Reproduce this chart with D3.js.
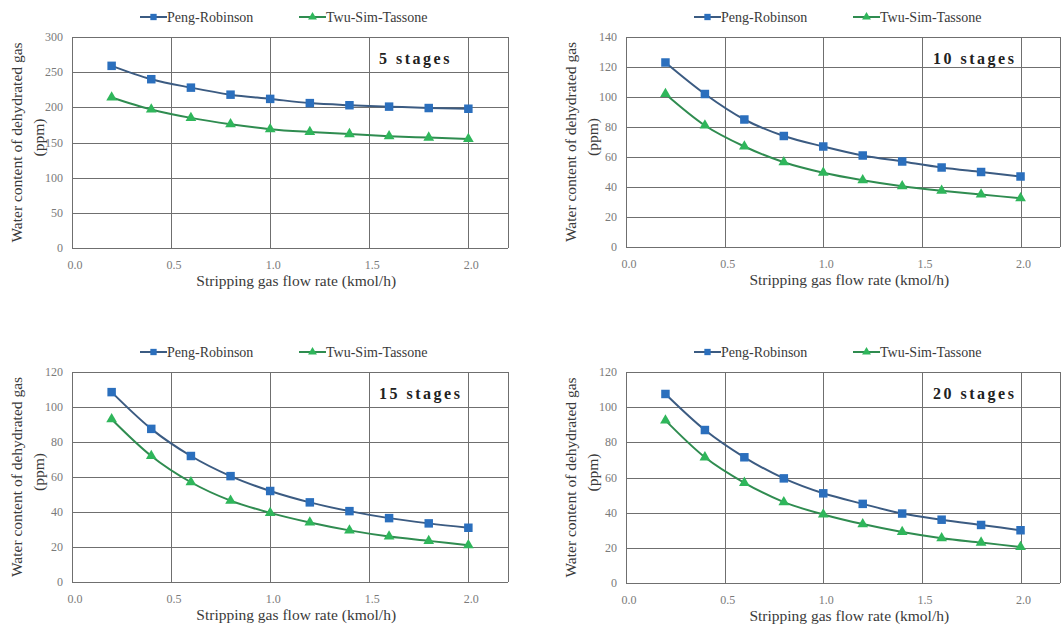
<!DOCTYPE html>
<html>
<head>
<meta charset="utf-8">
<script src="https://cdn.jsdelivr.net/npm/d3@7"></script>
<style>
  body { margin: 0; background: #fff; }
  svg text { font-family: "Liberation Serif", "DejaVu Serif", serif; }
  .grid line { stroke: #6f6f6f; stroke-width: 1; }
  .tick-label { fill: #7a7a7a; font-size: 12px; }
  .axis-title { fill: #3a3a3a; font-size: 15.5px; }
  .legend-text { fill: #3a3a3a; font-size: 14px; }
  .stage-label { fill: #222; font-size: 16px; font-weight: bold; letter-spacing: 2.5px; }
</style>
</head>
<body>
<div id="chart"></div>
<script>
const width = 1061;
const height = 625;

const flowRates = [0.2, 0.4, 0.6, 0.8, 1.0, 1.2, 1.4, 1.6, 1.8, 2.0];
const xTicks = [0.0, 0.5, 1.0, 1.5, 2.0];
const seriesNames = ["Peng-Robinson", "Twu-Sim-Tassone"];
const stageLabels = ["5 stages", "10 stages", "15 stages", "20 stages"];

const pr5 = [259, 240, 228, 218, 212, 206, 203, 201, 199, 198];
const tst5 = [214, 197, 185, 176, 169, 165, 162, 159, 157, 155];
const pr10 = [123, 102, 85, 74, 67, 61, 57, 53, 50, 47];
const tst10 = [102, 81, 67, 56.5, 49.5, 44.5, 40.5, 37.5, 35, 32.5];
const pr15 = [108.5, 87.5, 72, 60.5, 52, 45.5, 40.5, 36.5, 33.5, 31];
const tst15 = [93, 72, 57, 46.5, 39.5, 34, 29.5, 26, 23.5, 21];
const pr20 = [107.5, 87, 71.5, 59.5, 51, 45, 39.5, 36, 33, 30];
const tst20 = [92.5, 71.5, 57, 46, 39, 33.5, 29, 25.5, 23, 20.5];

const yMax = [300, 140, 120, 120];
const yStep = [50, 20, 20, 20];

const colors = {
  prLine: "#3b5b82",
  prMarker: "#2b6fbd",
  tstLine: "#2f8c50",
  tstMarker: "#2fb65b"
};

// panel frames in page pixels
const frames = [
  { left: 72, right: 508, top: 37, bottom: 248 },
  { left: 626, right: 1060, top: 37, bottom: 247 },
  { left: 72, right: 508, top: 372, bottom: 582 },
  { left: 626, right: 1060, top: 372, bottom: 583 }
];

const panels = [
  { pr: pr5, tst: tst5 },
  { pr: pr10, tst: tst10 },
  { pr: pr15, tst: tst15 },
  { pr: pr20, tst: tst20 }
];

const svg = d3.select("#chart")
  .append("svg")
  .attr("width", width)
  .attr("height", height);

const square = d3.symbol().type(d3.symbolSquare).size(72);
const triangle = d3.symbol().type(d3.symbolTriangle).size(50);

panels.forEach((p, i) => {
  const f = frames[i];
  const g = svg.append("g");

  const x = d3.scaleLinear().domain([0, 2.2]).range([f.left, f.right]);
  const y = d3.scaleLinear().domain([0, yMax[i]]).range([f.bottom, f.top]);
  const yTicks = d3.range(0, yMax[i] + 1, yStep[i]);

  // grid
  const grid = g.append("g").attr("class", "grid");
  grid.selectAll(".h")
    .data(yTicks)
    .join("line")
    .attr("x1", f.left).attr("x2", f.right)
    .attr("y1", d => Math.round(y(d)) + 0.5).attr("y2", d => Math.round(y(d)) + 0.5);
  grid.selectAll(".v")
    .data(xTicks.concat([2.2]))
    .join("line")
    .attr("y1", f.top).attr("y2", f.bottom)
    .attr("x1", d => Math.round(x(d)) + 0.5).attr("x2", d => Math.round(x(d)) + 0.5);

  g.selectAll(".ytl")
    .data(yTicks)
    .join("text")
    .attr("class", "tick-label")
    .attr("x", f.left - 9)
    .attr("y", d => y(d) + 4)
    .attr("text-anchor", "end")
    .text(d => d);

  g.selectAll(".xtl")
    .data(xTicks)
    .join("text")
    .attr("class", "tick-label")
    .attr("x", d => x(d) + 3)
    .attr("y", f.bottom + 21)
    .attr("text-anchor", "middle")
    .text(d => d.toFixed(1));

  // axis titles
  const cy = (f.top + f.bottom) / 2;
  g.append("text")
    .attr("class", "axis-title")
    .attr("transform", `translate(${f.left - 50}, ${cy}) rotate(-90)`)
    .attr("text-anchor", "middle")
    .text("Water content of dehydrated gas");
  g.append("text")
    .attr("class", "axis-title")
    .attr("transform", `translate(${f.left - 28}, ${cy - 5}) rotate(-90)`)
    .attr("text-anchor", "middle")
    .text("(ppm)");
  g.append("text")
    .attr("class", "axis-title")
    .attr("x", x(1.0) + 26)
    .attr("y", f.bottom + 38)
    .attr("text-anchor", "middle")
    .text("Stripping gas flow rate (kmol/h)");

  // series
  const line = d3.line()
    .x((d, j) => x(flowRates[j]))
    .y(d => y(d))
    .curve(d3.curveMonotoneX);

  g.append("path")
    .attr("d", line(p.pr))
    .attr("fill", "none")
    .attr("stroke", colors.prLine)
    .attr("stroke-width", 2);
  g.append("path")
    .attr("d", line(p.tst))
    .attr("fill", "none")
    .attr("stroke", colors.tstLine)
    .attr("stroke-width", 2);

  g.selectAll(".prm")
    .data(p.pr)
    .join("path")
    .attr("d", square)
    .attr("transform", (d, j) => `translate(${x(flowRates[j])}, ${y(d)})`)
    .attr("fill", colors.prMarker);
  g.selectAll(".tstm")
    .data(p.tst)
    .join("path")
    .attr("d", triangle)
    .attr("transform", (d, j) => `translate(${x(flowRates[j])}, ${y(d)})`)
    .attr("fill", colors.tstMarker);

  // stage label
  g.append("text")
    .attr("class", "stage-label")
    .attr("x", f.left + 307)
    .attr("y", f.top + 27)
    .text(stageLabels[i]);

  // legend
  const ly = f.top - 20;
  const legend = g.selectAll(".legend")
    .data(seriesNames)
    .join("g")
    .attr("transform", (d, k) => `translate(${f.left + (k === 0 ? 68 : 227)}, ${ly})`);
  legend.append("line")
    .attr("x1", 0).attr("x2", 27)
    .attr("stroke", (d, k) => k === 0 ? colors.prLine : colors.tstLine)
    .attr("stroke-width", 2);
  legend.append("path")
    .attr("d", (d, k) => k === 0 ? d3.symbol().type(d3.symbolSquare).size(40)() : d3.symbol().type(d3.symbolTriangle).size(34)())
    .attr("transform", "translate(13.5, 0)")
    .attr("fill", (d, k) => k === 0 ? colors.prMarker : colors.tstMarker);
  legend.append("text")
    .attr("class", "legend-text")
    .attr("x", 27)
    .attr("y", 4.5)
    .text(d => d);
});
</script>
</body>
</html>
